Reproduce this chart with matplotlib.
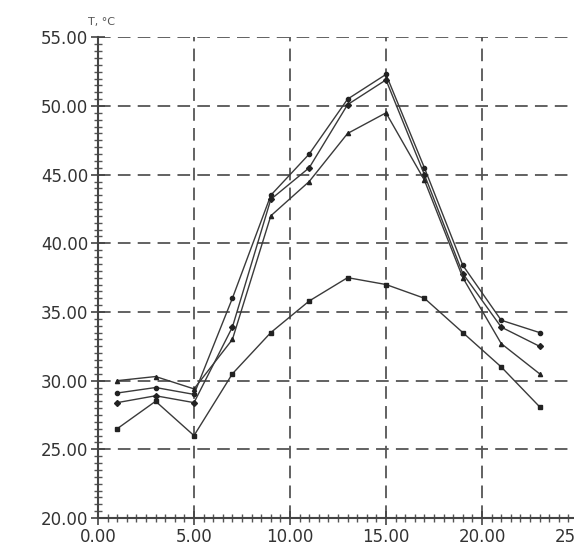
import numpy as np
import matplotlib.pyplot as plt
from matplotlib.ticker import MultipleLocator, FormatStrFormatter

# hours and temperatures
hours = [1, 3, 5, 7, 9, 11, 13, 15, 17, 19, 21, 23]
t1 = [29.1, 29.5, 29.0, 36.0, 43.5, 46.5, 50.5, 52.3, 45.5, 38.4, 34.4, 33.5]
t2 = [28.4, 28.9, 28.4, 33.9, 43.2, 45.5, 50.1, 51.9, 45.0, 37.8, 33.9, 32.5]
t3 = [30.0, 30.3, 29.4, 33.0, 42.0, 44.5, 48.0, 49.5, 44.6, 37.5, 32.7, 30.5]
t4 = [26.5, 28.5, 26.0, 30.5, 33.5, 35.8, 37.5, 37.0, 36.0, 33.5, 31.0, 28.1]

fig = plt.figure(figsize=(5.74, 5.49), dpi=100)
ax = fig.add_axes([98/574, 31/549, 480/574, 480.7/549])

for vals, m in zip([t1, t2, t3, t4], ['o', 'D', '^', 's']):
    ax.plot(hours, vals, color='#3a3a3a', lw=1.0, marker=m, ms=3,
            mfc='#222222', mec='#222222', clip_on=False)

ax.set_xlim(0, 25)
ax.set_ylim(20, 55)
ax.xaxis.set_major_locator(MultipleLocator(5))
ax.yaxis.set_major_locator(MultipleLocator(5))
ax.xaxis.set_minor_locator(MultipleLocator(0.5))
ax.yaxis.set_minor_locator(MultipleLocator(0.5))
ax.xaxis.set_major_formatter(FormatStrFormatter('%.2f'))
ax.yaxis.set_major_formatter(FormatStrFormatter('%.2f'))

ax.grid(True, which='major', color='#555555', ls=(0, (7, 4)), lw=1.3)
ax.spines['top'].set_visible(False)
ax.spines['right'].set_visible(False)
for s in ['left', 'bottom']:
    ax.spines[s].set_color('#444444')
    ax.spines[s].set_linewidth(1.5)

ax.tick_params(which='major', direction='inout', length=10, width=1.2,
               colors='#444444', labelsize=12, labelcolor='#333333', pad=2)
ax.tick_params(which='minor', direction='inout', length=6, width=1.0, colors='#555555')

fig.text(88/574, 1 - 22/549, 'T, °C', fontsize=8, color='#555555', va='center')

fig.savefig('out.png', dpi=100)
